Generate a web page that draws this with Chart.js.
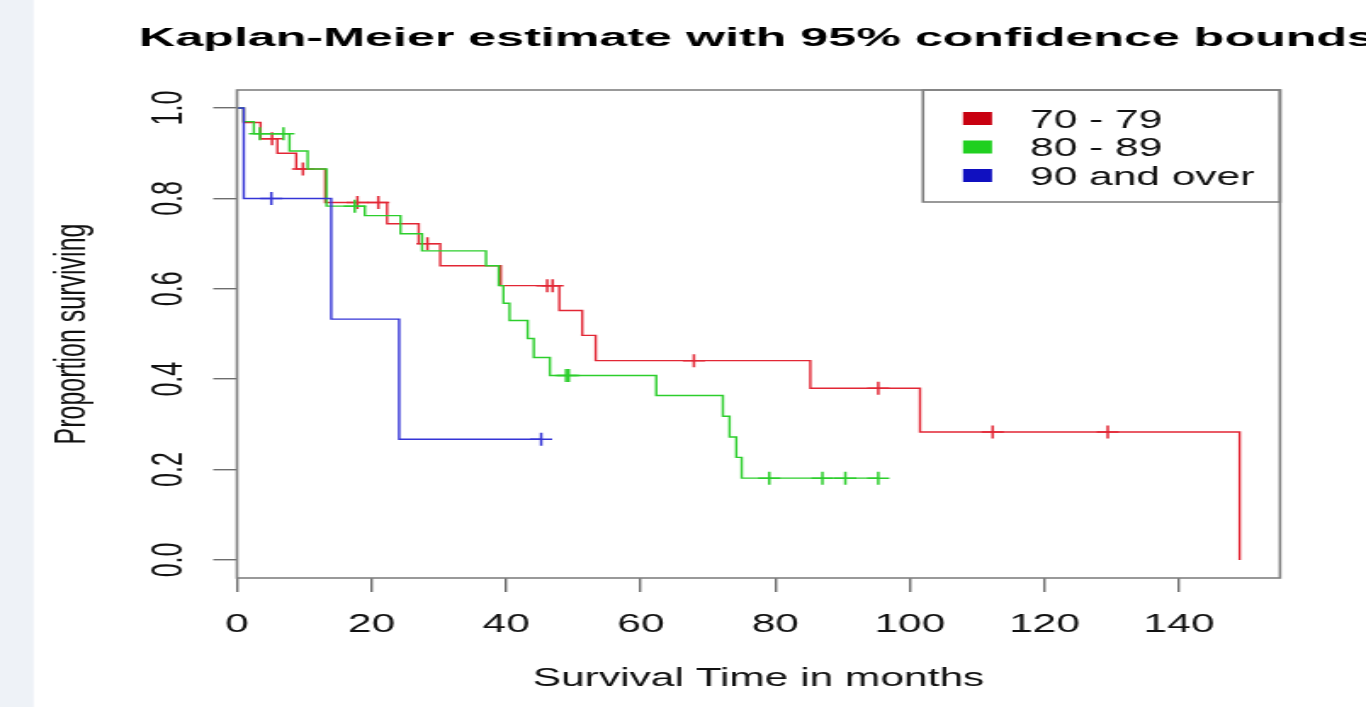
<!DOCTYPE html>
<html>
<head>
<meta charset="utf-8">
<title>Kaplan-Meier estimate with 95% confidence bounds</title>
<script src="https://cdn.jsdelivr.net/npm/chart.js@4.4.1/dist/chart.umd.min.js"></script>
<style>
  html, body { margin: 0; padding: 0; background: #fff; overflow: hidden; }
  #km { display: block; }
</style>
</head>
<body>
<!-- the original picture is an R plot stretched sideways, so the canvas is drawn narrow and widened by its inline style -->
<canvas id="km" width="804" height="707" style="width:1366px;height:707px"></canvas>
<script>
// ===================================
// DATA
// ===================================

const groupLabels = ['70 - 79', '80 - 89', '90 and over'];
const xTickValues = [0, 20, 40, 60, 80, 100, 120, 140];
const yTickValues = [0, 0.2, 0.4, 0.6, 0.8, 1.0];
const yTickLabels = ['0.0', '0.2', '0.4', '0.6', '0.8', '1.0'];

// 70 - 79: event times (months) and survival after each event
const redTimes = [0, 1, 3.5, 6, 8.8, 13.1, 22.3, 27, 30.2, 39.2, 47.9, 51.3, 53.3, 85.2, 101.5, 149];
const redSurv = [1, 0.968, 0.932, 0.900, 0.865, 0.791, 0.744, 0.700, 0.651, 0.607, 0.552, 0.497, 0.441, 0.380, 0.283, 0];
const redCensor = [5.2, 9.8, 17.9, 21, 28.3, 46.1, 46.9, 67.9, 95.3, 112.3, 129.4];

// 80 - 89
const greenTimes = [0, 1, 2.5, 7.8, 10.5, 13.3, 19, 24.3, 27.5, 37, 38.9, 39.6, 40.5, 43.2, 44.1, 46.5, 62.3, 72.2, 73.2, 74.2, 75];
const greenSurv = [1, 0.970, 0.943, 0.905, 0.865, 0.783, 0.762, 0.722, 0.684, 0.651, 0.607, 0.568, 0.530, 0.490, 0.448, 0.408, 0.364, 0.318, 0.272, 0.227, 0.181];
const greenCensor = [3.4, 6.9, 17.5, 48.9, 49.3, 79.1, 87, 90.4, 95.3];

// 90 and over
const blueTimes = [0, 1, 14, 24.1];
const blueSurv = [1, 0.8, 0.533, 0.267];
const blueCensor = [5.1, 45.2];

const colors = {
    red: 'rgb(226, 38, 52)',
    green: 'rgb(44, 206, 44)',
    blue: 'rgb(52, 52, 214)',
    redFill: 'rgb(200, 0, 16)',
    greenFill: 'rgb(32, 208, 32)',
    blueFill: 'rgb(16, 16, 192)',
    box: '#808080',
    text: '#111111'
};

const FONT = "'Liberation Sans', Arial, Helvetica, sans-serif";
const STRETCH = 1366 / 804;   // horizontal stretch applied by the canvas style

// ===================================
// HELPERS
// ===================================

// value of the step function at time t
function survAt(times, surv, t) {
    let s = surv[0];
    for (let i = 0; i < times.length; i++) {
        if (times[i] <= t) s = surv[i];
    }
    return s;
}

// KM curve points; the line is held out to the last observation
function curvePoints(times, surv, endTime) {
    const pts = times.map((t, i) => ({ x: t, y: surv[i] }));
    if (endTime > times[times.length - 1]) {
        pts.push({ x: endTime, y: surv[surv.length - 1] });
    }
    return pts;
}

function censorPoints(times, surv, censor) {
    return censor.map(t => ({ x: t, y: survAt(times, surv, t) }));
}

function stepDataset(label, data, color, order) {
    return {
        label: label,
        data: data,
        borderColor: color,
        borderWidth: 1.4,
        stepped: true,
        pointRadius: 0,
        fill: false,
        order: order
    };
}

function censorDataset(label, data, color, order) {
    return {
        label: label + ' censored',
        data: data,
        showLine: false,
        borderColor: color,
        backgroundColor: color,
        pointStyle: 'cross',
        pointRadius: 6.5,
        pointBorderWidth: 1.5,
        order: order
    };
}

// ===================================
// TEXT, BOX AND LEGEND (R style)
// ===================================

const rPlotDecor = {
    id: 'rPlotDecor',
    beforeDraw(chart) {
        const c = chart.ctx;
        c.save();
        c.fillStyle = '#ffffff';
        c.fillRect(0, 0, chart.width, chart.height);
        c.fillStyle = '#eef2f7';
        c.fillRect(0, 0, 33.5 / STRETCH, chart.height);
        c.restore();
    },
    afterDraw(chart) {
        const c = chart.ctx;
        const area = chart.chartArea;
        const yScale = chart.scales.y;
        c.save();

        // plot box
        c.strokeStyle = colors.box;
        c.lineWidth = 1.6;
        c.strokeRect(area.left, area.top, area.right - area.left, area.bottom - area.top);

        // title, a little wider than the axis text
        const title = 'Kaplan-Meier estimate with 95% confidence bounds';
        c.fillStyle = '#000';
        c.font = 'bold 25.5px ' + FONT;
        c.textAlign = 'left';
        c.textBaseline = 'alphabetic';
        const w0 = c.measureText(title).width;
        c.save();
        c.translate(139 / STRETCH, 45.5);
        c.scale((1236 / STRETCH) / w0, 1);
        c.fillText(title, 0, 0);
        c.restore();

        // y tick labels, rotated like R's las = 0
        c.fillStyle = colors.text;
        c.font = '25px ' + FONT;
        c.textAlign = 'center';
        c.textBaseline = 'middle';
        yTickValues.forEach((v, i) => {
            const py = yScale.getPixelForValue(v);
            c.save();
            c.translate(170 / STRETCH, py);
            c.rotate(-Math.PI / 2);
            c.fillText(yTickLabels[i], 0, 0);
            c.restore();
        });

        // axis titles
        c.save();
        c.translate(73 / STRETCH, (area.top + area.bottom) / 2);
        c.rotate(-Math.PI / 2);
        c.fillText('Proportion surviving', 0, 0);
        c.restore();

        c.textBaseline = 'alphabetic';
        c.fillText('Survival Time in months', (area.left + area.right) / 2, 686);

        // legend
        const lx = 923 / STRETCH;
        c.strokeStyle = colors.box;
        c.lineWidth = 1.6;
        c.strokeRect(lx, area.top, area.right - lx, 202 - area.top);
        const fills = [colors.redFill, colors.greenFill, colors.blueFill];
        const rows = [118.5, 147, 175.5];
        c.textAlign = 'left';
        groupLabels.forEach((lab, i) => {
            const ry = rows[i];
            c.fillStyle = fills[i];
            c.fillRect(963 / STRETCH, ry - 6.5, 29 / STRETCH, 13);
            c.fillStyle = colors.text;
            c.fillText(lab, 1030 / STRETCH, ry + 9);
        });

        c.restore();
    }
};

// ===================================
// CHART
// ===================================

const axisGrid = {
    drawOnChartArea: false,
    drawTicks: true,
    tickLength: 14,
    color: '#6e6e6e',
    lineWidth: 1.4
};

new Chart(document.getElementById('km').getContext('2d'), {
    type: 'line',
    data: {
        datasets: [
            stepDataset(groupLabels[2], curvePoints(blueTimes, blueSurv, blueCensor[blueCensor.length - 1]), colors.blue, 1),
            censorDataset(groupLabels[2], censorPoints(blueTimes, blueSurv, blueCensor), colors.blue, 1),
            stepDataset(groupLabels[1], curvePoints(greenTimes, greenSurv, greenCensor[greenCensor.length - 1]), colors.green, 2),
            censorDataset(groupLabels[1], censorPoints(greenTimes, greenSurv, greenCensor), colors.green, 2),
            stepDataset(groupLabels[0], curvePoints(redTimes, redSurv, 0), colors.red, 3),
            censorDataset(groupLabels[0], censorPoints(redTimes, redSurv, redCensor), colors.red, 3)
        ]
    },
    options: {
        responsive: false,
        animation: false,
        devicePixelRatio: 1,
        layout: { padding: { top: 90, right: 804 - 1280 / STRETCH, bottom: 0, left: 0 } },
        plugins: {
            legend: { display: false },
            tooltip: { enabled: false },
            title: { display: false }
        },
        scales: {
            x: {
                type: 'linear',
                min: 0,
                max: 155,
                afterFit: s => { s.height = 707 - 578; },
                afterBuildTicks: s => { s.ticks = xTickValues.map(v => ({ value: v })); },
                border: { display: false },
                grid: axisGrid,
                ticks: {
                    padding: 18,
                    color: colors.text,
                    font: { family: FONT, size: 25 },
                    maxRotation: 0,
                    autoSkip: false,
                    callback: v => String(v)
                }
            },
            y: {
                type: 'linear',
                min: -0.04,
                max: 1.04,
                afterFit: s => { s.width = 237 / STRETCH; },
                afterBuildTicks: s => { s.ticks = yTickValues.map(v => ({ value: v })); },
                border: { display: false },
                grid: axisGrid,
                ticks: { display: false }
            }
        }
    },
    plugins: [rPlotDecor]
});
</script>
</body>
</html>
